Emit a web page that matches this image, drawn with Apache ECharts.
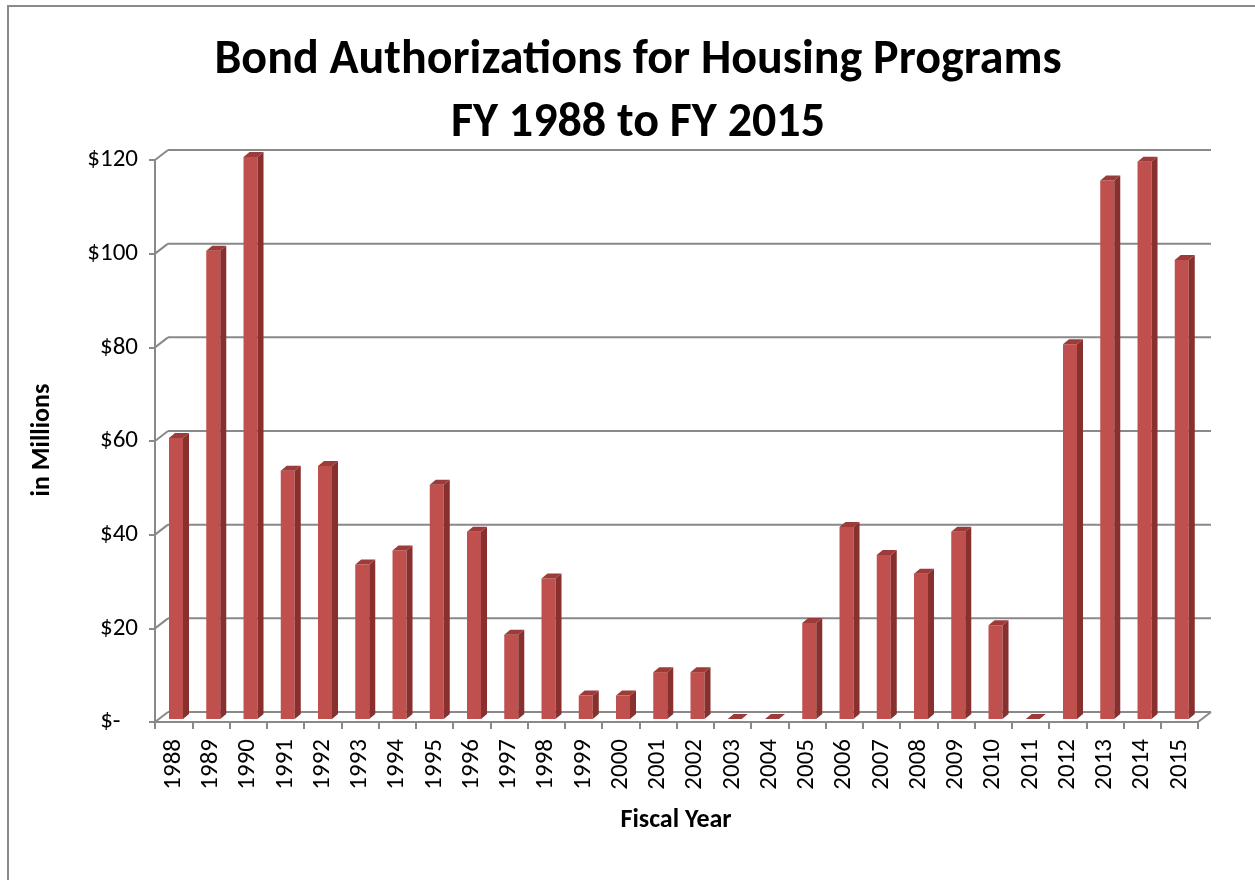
<!DOCTYPE html>
<html>
<head>
<meta charset="utf-8">
<script src="https://cdn.jsdelivr.net/npm/echarts@6/dist/echarts.min.js"></script>
<style>
html,body{margin:0;padding:0;background:#fff;}
#chart{width:1255px;height:880px;}
</style>
</head>
<body>
<div id="chart"></div>
<script>
// ---- data ----
var years = ['1988','1989','1990','1991','1992','1993','1994','1995','1996','1997','1998','1999','2000','2001','2002','2003','2004','2005','2006','2007','2008','2009','2010','2011','2012','2013','2014','2015'];
var authorizations = [60,100,120,53,54,33,36,50,40,18,30,5,5,10,10,0,0,20.5,41,35,31,40,20,0,80,115,119,98];
var yTicks = [0,20,40,60,80,100,120];
var titleLines = ['Bond Authorizations for Housing Programs','FY 1988 to FY 2015'];

var FONT = 'Carlito, Lato, "Open Sans", sans-serif';
var GRID_COLOR = '#898989';
var WALL_DX = 13, WALL_DY = -10;

var chart = echarts.init(document.getElementById('chart'));

function renderWalls(params, api) {
  var cs = params.coordSys;
  var v = api.value(1);
  var y = api.coord([0, v])[1];
  var style = {stroke: GRID_COLOR, lineWidth: 2, fill: null};
  var children = [
    {type: 'line', shape: {x1: cs.x + WALL_DX, y1: y + WALL_DY, x2: cs.x + cs.width + WALL_DX, y2: y + WALL_DY}, style: style},
    {type: 'line', shape: {x1: cs.x, y1: y, x2: cs.x + WALL_DX, y2: y + WALL_DY}, style: style}
  ];
  if (v === 0) {
    children.push({type: 'line', shape: {x1: cs.x + cs.width, y1: y, x2: cs.x + cs.width + WALL_DX, y2: y + WALL_DY}, style: style});
  }
  return {type: 'group', children: children};
}

function renderBar(params, api) {
  var idx = api.value(0);
  var val = api.value(1);
  var base = api.coord([idx, 0]);
  var top = api.coord([idx, val]);
  var band = api.size([1, 0])[0];
  var c = base[0];
  var left = c - band * 0.124;
  var right = left + band * 0.376;
  var shiftY = -3;
  var y0 = base[1] + shiftY;
  var y1 = top[1] + shiftY;
  var dx = 6, dy = -5;
  var children = [];
  if (y0 - y1 > 0.5) {
    children.push({type: 'rect', shape: {x: left, y: y1, width: right - left, height: y0 - y1}, style: {fill: '#C0504D'}});
    children.push({type: 'polygon', shape: {points: [[right, y1], [right + dx, y1 + dy], [right + dx, y0 + dy], [right, y0]]}, style: {fill: '#87302E'}});
  }
  children.push({type: 'polygon', shape: {points: [[left, y1], [left + dx, y1 + dy], [right + dx, y1 + dy], [right, y1]]}, style: {fill: '#9C3B39'}});
  return {type: 'group', children: children};
}

var option = {
  animation: false,
  backgroundColor: '#fff',
  title: {
    text: titleLines.join('\n'),
    left: 633,
    textAlign: 'center',
    top: 24,
    textStyle: {fontFamily: FONT, fontSize: 48, fontWeight: 'bold', color: '#000', lineHeight: 63}
  },
  graphic: [
    {type: 'rect', shape: {x: 8, y: 6, width: 1400, height: 1000}, style: {fill: null, stroke: '#8a8a8a', lineWidth: 2}, z: 0},
    {type: 'text', x: 42, y: 440, rotation: Math.PI / 2, style: {text: 'in Millions', fontFamily: FONT, fontSize: 26, fontWeight: 'bold', fill: '#000', align: 'center', verticalAlign: 'middle'}},
    {type: 'text', x: 676, y: 820, style: {text: 'Fiscal Year', fontFamily: FONT, fontSize: 26, fontWeight: 'bold', fill: '#000', align: 'center', verticalAlign: 'middle'}}
  ],
  grid: {left: 155, right: 57, top: 160, bottom: 158, containLabel: false},
  xAxis: {
    type: 'category',
    data: years,
    boundaryGap: true,
    axisLine: {show: true, lineStyle: {color: GRID_COLOR, width: 2}},
    axisTick: {show: true, length: 7, lineStyle: {color: GRID_COLOR, width: 2}},
    axisLabel: {rotate: 90, interval: 0, margin: 17, fontFamily: FONT, fontSize: 25, color: '#000'},
    splitLine: {show: false}
  },
  yAxis: {
    type: 'value',
    min: 0, max: 120, interval: 20,
    axisLine: {show: true, lineStyle: {color: GRID_COLOR, width: 2}},
    axisTick: {show: true, length: 6, lineStyle: {color: GRID_COLOR, width: 2}},
    axisLabel: {
      margin: 17, fontFamily: FONT, fontSize: 25, color: '#000', padding: [8, 0, 0, 0],
      formatter: function (v) { return v === 0 ? '$-\u2002\u2009' : '$' + v; }
    },
    splitLine: {show: false}
  },
  series: [
    {
      type: 'custom', name: 'walls', z: 1, silent: true,
      renderItem: renderWalls,
      data: yTicks.map(function (v) { return [0, v]; })
    },
    {
      type: 'custom', name: 'Bond Authorizations', z: 3,
      renderItem: renderBar,
      data: authorizations.map(function (v, i) { return [i, v]; })
    }
  ]
};
chart.setOption(option);
</script>
</body>
</html>
